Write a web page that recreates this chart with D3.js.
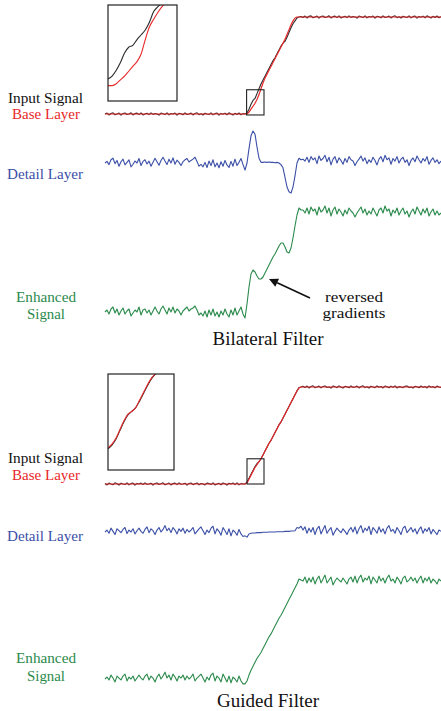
<!DOCTYPE html>
<html><head><meta charset="utf-8">
<script src="https://cdn.jsdelivr.net/npm/d3@7"></script>
<style>html,body{margin:0;padding:0;background:#fff;}svg{display:block;}</style>
</head><body>
<script>
// ---------- DATA (sample index t = 0..168) ----------
const inputTop = [
 0.00,0.01,-0.01,0.005,0.012,-0.008,0.00,0.01,-0.012,0.006,
 0.01,-0.005,0.00,0.012,-0.01,0.004,0.009,-0.006,0.011,-0.01,
 0.00,0.008,-0.007,0.012,-0.004,0.006,0.00,-0.011,0.01,0.003,
 -0.006,0.012,-0.009,0.005,0.00,0.01,-0.012,0.007,0.002,-0.008,
 0.011,-0.005,0.00,0.009,-0.01,0.006,0.012,-0.007,0.003,-0.01,
 0.008,0.00,-0.006,0.011,-0.009,0.004,0.01,-0.012,0.006,-0.003,
 0.009,-0.008,0.012,0.00,-0.01,0.007,-0.005,0.01,-0.008,0.004,
 0.00,
 0.01,0.05,0.10,0.14,0.16,0.21,0.26,0.31,0.35,0.39,
 0.43,0.47,0.51,0.55,0.58,0.62,0.66,0.70,0.73,0.75,
 0.79,0.84,0.89,0.93,0.96,0.99,1.00,1.005,
 0.995,1.01,0.99,1.008,1.012,0.992,1.00,1.01,0.988,1.006,
 1.01,0.995,1.00,1.012,0.99,1.004,1.009,0.994,1.011,0.99,
 1.00,1.008,0.993,1.012,0.996,1.006,1.00,0.989,1.01,1.003,
 0.994,1.012,0.991,1.005,1.00,1.01,0.988,1.007,1.002,0.992,
 1.011,0.995,1.00,1.009,0.99,1.006,1.012,0.993,1.003,0.99,
 1.008,1.00,0.994,1.011,0.991,1.004,1.01,0.988,1.006,0.997,
 1.009,0.992,1.012,1.00,0.99,1.007,0.995,1.01,0.992,1.004
];
const baseTop = [
 0,0,0,0,0,0,0,0,0,0, 0,0,0,0,0,0,0,0,0,0, 0,0,0,0,0,0,0,0,0,0,
 0,0,0,0,0,0,0,0,0,0, 0,0,0,0,0,0,0,0,0,0, 0,0,0,0,0,0,0,0,0,0,
 0,0,0,0,0,0,0,0,0,0, 0,
 0.00,0.02,0.05,0.08,0.11,0.15,0.20,0.26,0.32,0.37,
 0.41,0.45,0.49,0.53,0.57,0.61,0.65,0.69,0.73,0.77,
 0.82,0.87,0.92,0.96,0.99,1.00,1.00,1.00,
 1,1,1,1,1,1,1,1,1,1, 1,1,1,1,1,1,1,1,1,1, 1,1,1,1,1,1,1,1,1,1,
 1,1,1,1,1,1,1,1,1,1, 1,1,1,1,1,1,1,1,1,1, 1,1,1,1,1,1,1,1,1,1,
 1,1,1,1,1,1,1,1,1,1
];
const detailTop = [
 0.00,0.05,-0.05,0.10,0.15,-0.02,0.08,-0.10,0.04,0.12,
 -0.06,0.02,0.10,-0.12,-0.04,0.06,0.00,0.14,-0.08,0.05,
 0.10,-0.03,0.06,-0.10,0.02,0.15,0.04,-0.07,0.08,0.18,
 0.06,-0.05,0.12,0.00,0.16,-0.04,0.09,0.02,-0.08,0.04,
 0.10,0.14,0.03,0.08,0.12,0.18,0.05,-0.10,-0.04,-0.12,
 0.02,-0.14,0.06,-0.08,0.10,-0.12,0.00,-0.15,0.04,-0.10,
 0.08,-0.06,-0.14,0.05,-0.10,0.12,-0.08,0.02,0.14,-0.05,
 -0.22,
 0.00,0.45,0.85,1.00,0.90,0.50,0.15,0.02,0.02,0.03,
 0.02,0.03,0.02,0.02,0.01,0.02,0.00,-0.05,-0.15,-0.45,
 -0.75,-0.90,-0.94,-0.75,-0.40,0.00,0.15,0.10,
 0.12,0.06,0.18,0.02,0.20,0.10,0.16,-0.02,0.22,0.08,
 0.14,0.24,0.04,0.18,-0.06,0.12,0.20,0.00,0.16,0.08,
 -0.04,0.14,0.02,0.20,0.10,0.06,-0.08,0.04,0.12,0.22,
 0.06,0.16,-0.02,0.10,0.02,0.18,0.08,-0.06,0.12,0.20,
 0.04,0.24,0.10,0.16,-0.04,0.14,0.06,0.20,0.00,0.12,
 0.18,0.02,0.10,-0.08,0.08,0.16,0.04,0.22,0.10,0.00,
 0.14,0.06,0.20,-0.04,0.08,0.16,0.02,0.10,-0.02,0.06
];
const enhancedTop = [
 0.00,0.02,-0.02,0.03,0.05,-0.01,0.03,-0.03,0.01,0.04,
 -0.02,0.01,0.03,-0.04,-0.01,0.02,0.00,0.05,-0.03,0.02,
 0.03,-0.01,0.02,-0.03,0.01,0.05,0.01,-0.02,0.03,0.06,
 0.02,-0.02,0.04,0.00,0.05,-0.01,0.03,0.01,-0.03,0.01,
 0.03,0.05,0.01,0.03,0.04,0.06,0.02,-0.03,-0.01,-0.04,
 0.01,-0.05,0.02,-0.03,0.03,-0.04,0.00,-0.05,0.01,-0.03,
 0.03,-0.02,-0.05,0.02,-0.03,0.04,-0.03,0.01,0.05,-0.02,
 -0.06,
 0.08,0.25,0.38,0.42,0.40,0.36,0.33,0.33,0.35,0.39,
 0.43,0.47,0.51,0.55,0.58,0.62,0.66,0.69,0.69,0.65,
 0.60,0.59,0.64,0.74,0.86,0.97,1.04,1.02,
 1.02,0.99,1.04,0.98,1.05,1.01,1.03,0.97,1.05,1.00,
 1.02,1.06,0.99,1.04,0.96,1.02,1.05,0.98,1.03,1.00,
 0.96,1.02,0.98,1.04,1.01,0.99,0.95,0.99,1.02,1.05,
 0.99,1.03,0.97,1.01,0.98,1.04,1.00,0.96,1.02,1.04,
 0.99,1.06,1.01,1.03,0.96,1.02,0.99,1.04,0.97,1.01,
 1.04,0.98,1.01,0.95,1.00,1.03,0.98,1.05,1.01,0.97,
 1.03,0.99,1.04,0.96,1.00,1.03,0.97,1.01,0.97,0.99
];
const inputBot = [
 0.005,-0.01,0.01,0.00,-0.008,0.012,0.003,-0.01,0.008,0.00,
 -0.006,0.011,-0.009,0.004,0.01,-0.012,0.006,0.00,0.009,-0.007,
 0.012,-0.004,0.00,0.008,-0.011,0.006,0.01,-0.005,0.003,0.012,
 -0.008,0.00,0.01,-0.01,0.005,0.009,-0.006,0.012,-0.003,0.00,
 0.008,-0.012,0.006,0.01,-0.007,0.002,0.011,-0.009,0.005,0.00,
 -0.01,0.009,0.004,-0.006,0.012,-0.01,0.00,0.007,-0.008,0.01,
 0.003,-0.011,0.008,0.00,0.01,-0.006,0.012,-0.009,0.004,0.00,
 0.00,
 0.02,0.06,0.10,0.14,0.18,0.21,0.23,0.26,0.30,0.34,
 0.38,0.42,0.45,0.49,0.53,0.57,0.61,0.64,0.68,0.72,
 0.76,0.80,0.84,0.88,0.92,0.96,0.995,1.00,
 1.008,0.994,1.01,0.99,1.005,1.012,0.993,1.00,1.009,0.991,
 1.006,1.011,0.995,1.00,0.989,1.01,1.004,0.993,1.012,0.998,
 0.99,1.007,1.002,0.992,1.011,0.996,1.00,1.009,0.99,1.005,
 1.012,0.994,1.003,0.99,1.008,1.00,0.993,1.011,0.997,1.006,
 0.99,1.01,1.002,0.992,1.009,0.996,1.012,0.99,1.004,1.00,
 0.993,1.008,1.011,0.995,1.00,0.99,1.007,1.003,0.992,1.01,
 0.996,1.006,0.99,1.012,0.998,1.004,0.991,1.009,1.00,0.995
];
const baseBot = [
 0,0,0,0,0,0,0,0,0,0, 0,0,0,0,0,0,0,0,0,0, 0,0,0,0,0,0,0,0,0,0,
 0,0,0,0,0,0,0,0,0,0, 0,0,0,0,0,0,0,0,0,0, 0,0,0,0,0,0,0,0,0,0,
 0,0,0,0,0,0,0,0,0,0, 0,
 0.01,0.05,0.09,0.13,0.17,0.20,0.23,0.26,0.30,0.34,
 0.38,0.42,0.45,0.49,0.53,0.57,0.61,0.64,0.68,0.72,
 0.76,0.80,0.84,0.88,0.92,0.96,0.99,1.00,
 1,1,1,1,1,1,1,1,1,1, 1,1,1,1,1,1,1,1,1,1, 1,1,1,1,1,1,1,1,1,1,
 1,1,1,1,1,1,1,1,1,1, 1,1,1,1,1,1,1,1,1,1, 1,1,1,1,1,1,1,1,1,1,
 1,1,1,1,1,1,1,1,1,1
];
const detailBot = [
 0.00,0.06,-0.04,0.12,0.02,-0.08,0.10,0.04,-0.02,0.08,
 0.14,-0.05,0.06,0.00,0.10,-0.06,0.04,0.12,0.02,-0.04,
 0.08,0.16,-0.02,0.10,0.04,-0.08,0.06,0.14,0.00,0.08,
 0.20,0.04,0.12,-0.02,0.14,0.06,-0.06,0.10,0.02,0.12,
 -0.04,0.08,0.00,0.06,0.14,-0.06,0.02,0.10,0.16,0.04,
 -0.08,0.06,-0.02,0.12,0.18,-0.06,0.10,0.02,-0.10,0.14,
 0.04,-0.08,0.10,-0.12,0.06,0.00,-0.10,0.08,-0.06,-0.14,
 -0.12,
 -0.16,-0.06,-0.04,-0.03,-0.03,-0.02,-0.02,-0.02,-0.01,-0.01,
 -0.01,0.00,0.00,0.00,0.00,0.01,0.01,0.01,0.01,0.02,
 0.02,0.02,0.03,0.03,0.04,0.14,0.12,0.18,
 0.06,0.16,-0.04,0.12,0.00,0.14,-0.08,0.10,0.18,-0.06,
 0.08,0.20,-0.04,0.06,0.14,-0.10,0.02,0.12,0.04,-0.02,
 0.10,0.02,-0.08,0.06,0.14,0.00,0.16,-0.06,0.10,0.20,
 -0.02,0.12,0.04,0.18,-0.08,0.14,0.06,-0.04,0.16,0.00,
 0.10,-0.06,0.12,0.20,0.02,0.08,-0.04,0.14,0.04,-0.08,
 0.12,0.18,-0.02,0.06,0.14,0.00,0.10,-0.06,0.08,0.16,
 -0.04,0.10,0.02,0.14,-0.06,0.08,0.00,-0.08,0.06,0.02
];
const enhancedBot = [
 0.00,0.02,-0.01,0.04,0.01,-0.03,0.03,0.01,-0.01,0.03,
 0.05,-0.02,0.02,0.00,0.03,-0.02,0.01,0.04,0.01,-0.01,
 0.03,0.05,-0.01,0.03,0.01,-0.03,0.02,0.05,0.00,0.03,
 0.07,0.01,0.04,-0.01,0.05,0.02,-0.02,0.03,0.01,0.04,
 -0.01,0.03,0.00,0.02,0.05,-0.02,0.01,0.03,0.05,0.01,
 -0.03,0.02,-0.01,0.04,0.06,-0.02,0.03,0.01,-0.03,0.05,
 0.01,-0.03,0.03,-0.04,0.02,0.00,-0.03,0.03,-0.02,-0.05,
 -0.05,
 -0.02,0.04,0.09,0.13,0.17,0.21,0.24,0.27,0.31,0.35,
 0.39,0.43,0.46,0.50,0.54,0.58,0.62,0.65,0.69,0.73,
 0.77,0.81,0.85,0.89,0.93,0.97,1.02,1.01,
 1.00,1.04,0.98,1.03,0.99,1.04,0.97,1.02,1.05,0.98,
 1.02,1.06,0.98,1.01,1.04,0.96,1.00,1.03,1.01,0.99,
 1.03,1.00,0.97,1.02,1.04,0.99,1.05,0.98,1.03,1.06,
 0.99,1.03,1.01,1.05,0.97,1.04,1.01,0.98,1.05,1.00,
 1.03,0.98,1.03,1.06,1.00,1.02,0.98,1.04,1.01,0.97,
 1.03,1.05,0.99,1.01,1.04,1.00,1.03,0.98,1.02,1.05,
 0.98,1.03,1.00,1.04,0.98,1.02,1.00,0.97,1.02,1.00
];
// magnified insets (relative position within inset box, 0..1)
const insetU = [0,0.06,0.12,0.18,0.24,0.30,0.36,0.42,0.48,0.54,0.60,0.66,0.72,0.78,0.84];
const insetTopBlack = [0.23,0.26,0.32,0.40,0.50,0.56,0.58,0.64,0.69,0.74,0.82,0.93,0.98,1.02,1.06];
const insetTopRed   = [0.16,0.16,0.18,0.22,0.26,0.31,0.36,0.41,0.49,0.64,0.77,0.85,0.92,0.98,1.03];
const insetBotBlack = [0.22,0.26,0.32,0.41,0.50,0.57,0.61,0.65,0.72,0.80,0.88,0.95,1.00,1.04,1.08];
const insetBotRed   = [0.23,0.27,0.33,0.42,0.51,0.58,0.61,0.65,0.73,0.81,0.89,0.96,1.00,1.04,1.08];

// ---------- DRAW ----------
const W = 441, H = 711;
const C = {black:"#2b2b2b", red:"#e8282b", blue:"#3b4fa6", green:"#2b8a4c"};
const FONT = "'Liberation Serif','Times New Roman',serif";
const svg = d3.select("body").append("svg").attr("width",W).attr("height",H);

const x = d3.scaleLinear().domain([0,168]).range([105,441]);
const panels = [
 {input:inputTop, base:baseTop, detail:detailTop, enh:enhancedTop,
  ySig:d3.scaleLinear().domain([0,1]).range([114,17]),
  yDet:d3.scaleLinear().domain([-1,1]).range([195,131]),
  yEnh:d3.scaleLinear().domain([0,1]).range([312,212]),
  box:{t0:70.8,t1:79.5,v0:-0.01,v1:0.25},
  inset:{x0:108,x1:177,y0:5,y1:101, w:69, black:insetTopBlack, red:insetTopRed},
  lab:{in:102.5, base:118.5, det:179, enh1:302, enh2:319},
  title:{text:"Bilateral Filter", y:345, x:268, len:111}},
 {input:inputBot, base:baseBot, detail:detailBot, enh:enhancedBot,
  ySig:d3.scaleLinear().domain([0,1]).range([484,387]),
  yDet:d3.scaleLinear().domain([-1,1]).range([564,500]),
  yEnh:d3.scaleLinear().domain([0,1]).range([679,581]),
  box:{t0:71,t1:79.5,v0:0,v1:0.26},
  inset:{x0:108,x1:174,y0:374,y1:470, w:66, black:insetBotBlack, red:insetBotRed},
  lab:{in:463, base:480, det:541, enh1:663, enh2:681},
  title:{text:"Guided Filter", y:707, x:268, len:102}}
];

function drawLine(data, y, color, w){
  svg.append("path").datum(data)
    .attr("d", d3.line().x((d,i)=>x(i)).y(d=>y(d)))
    .attr("fill","none").attr("stroke",color).attr("stroke-width",w||1.2)
    .attr("stroke-linejoin","round");
}
function label(txt, xx, yy, color, size, len, anchor){
  const t = svg.append("text").attr("x",xx).attr("y",yy).text(txt)
    .attr("font-family",FONT).attr("font-size",size).attr("fill",color)
    .attr("text-anchor",anchor||"start");
  if(len) t.attr("textLength",len).attr("lengthAdjust","spacingAndGlyphs");
  return t;
}

panels.forEach((p,k)=>{
  drawLine(p.input, p.ySig, C.black, 1.1);
  drawLine(p.base, p.ySig, C.red, 1.2);
  drawLine(p.detail, p.yDet, C.blue, 1.1);
  drawLine(p.enh, p.yEnh, C.green, 1.1);
  // small box around region of interest
  svg.append("rect")
    .attr("x",x(p.box.t0)).attr("y",p.ySig(p.box.v1))
    .attr("width",x(p.box.t1)-x(p.box.t0)).attr("height",p.ySig(p.box.v0)-p.ySig(p.box.v1))
    .attr("fill","none").attr("stroke","#222").attr("stroke-width",1.1);
  // inset
  const I = p.inset;
  const ix = d3.scaleLinear().domain([0,1]).range([I.x0, I.x0+I.w]);
  const iy = d3.scaleLinear().domain([0,1]).range([I.y1, I.y0]);
  const cid = "clip"+k;
  svg.append("clipPath").attr("id",cid).append("rect")
    .attr("x",I.x0).attr("y",I.y0).attr("width",I.x1-I.x0).attr("height",I.y1-I.y0);
  const g = svg.append("g").attr("clip-path",`url(#${cid})`);
  const il = d3.line().x((d,i)=>ix(insetU[i])).y(d=>iy(d)).curve(d3.curveMonotoneX);
  g.append("path").datum(I.black).attr("d",il).attr("fill","none").attr("stroke",C.black).attr("stroke-width",1.1);
  g.append("path").datum(I.red).attr("d",il).attr("fill","none").attr("stroke",C.red).attr("stroke-width",1.1);
  svg.append("rect").attr("x",I.x0).attr("y",I.y0).attr("width",I.x1-I.x0).attr("height",I.y1-I.y0)
    .attr("fill","none").attr("stroke","#222").attr("stroke-width",1.2);
  // labels
  label("Input Signal", 8, p.lab.in, "#111", 14, 75);
  label("Base Layer", 12, p.lab.base, C.red, 14, 68);
  label("Detail Layer", 7, p.lab.det, C.blue, 14, 76);
  label("Enhanced", 46, p.lab.enh1, C.green, 14, 60, "middle");
  label("Signal", 46, p.lab.enh2, C.green, 14, 38, "middle");
  label(p.title.text, p.title.x, p.title.y, "#111", 18, p.title.len, "middle");
});

// annotation: reversed gradients
const arrowTip = {t:82, v:0.33}, arrowTail = {t:102.5, v:0.14};
const yE = panels[0].yEnh;
const ax0 = x(arrowTail.t), ay0 = yE(arrowTail.v), ax1 = x(arrowTip.t), ay1 = yE(arrowTip.v);
const ang = Math.atan2(ay1-ay0, ax1-ax0), hl = 9, hw = 4.5;
const bx = ax1 - hl*Math.cos(ang), by = ay1 - hl*Math.sin(ang);
svg.append("line").attr("x1",ax0).attr("y1",ay0).attr("x2",bx).attr("y2",by)
  .attr("stroke","#111").attr("stroke-width",1.6);
svg.append("path").attr("d",`M${ax1},${ay1}L${bx+hw*Math.sin(ang)},${by-hw*Math.cos(ang)}L${bx-hw*Math.sin(ang)},${by+hw*Math.cos(ang)}Z`)
  .attr("fill","#111");
label("reversed", 354, 302, "#111", 14, 58, "middle");
label("gradients", 354, 318, "#111", 14, 63, "middle");
</script>
</body></html>
